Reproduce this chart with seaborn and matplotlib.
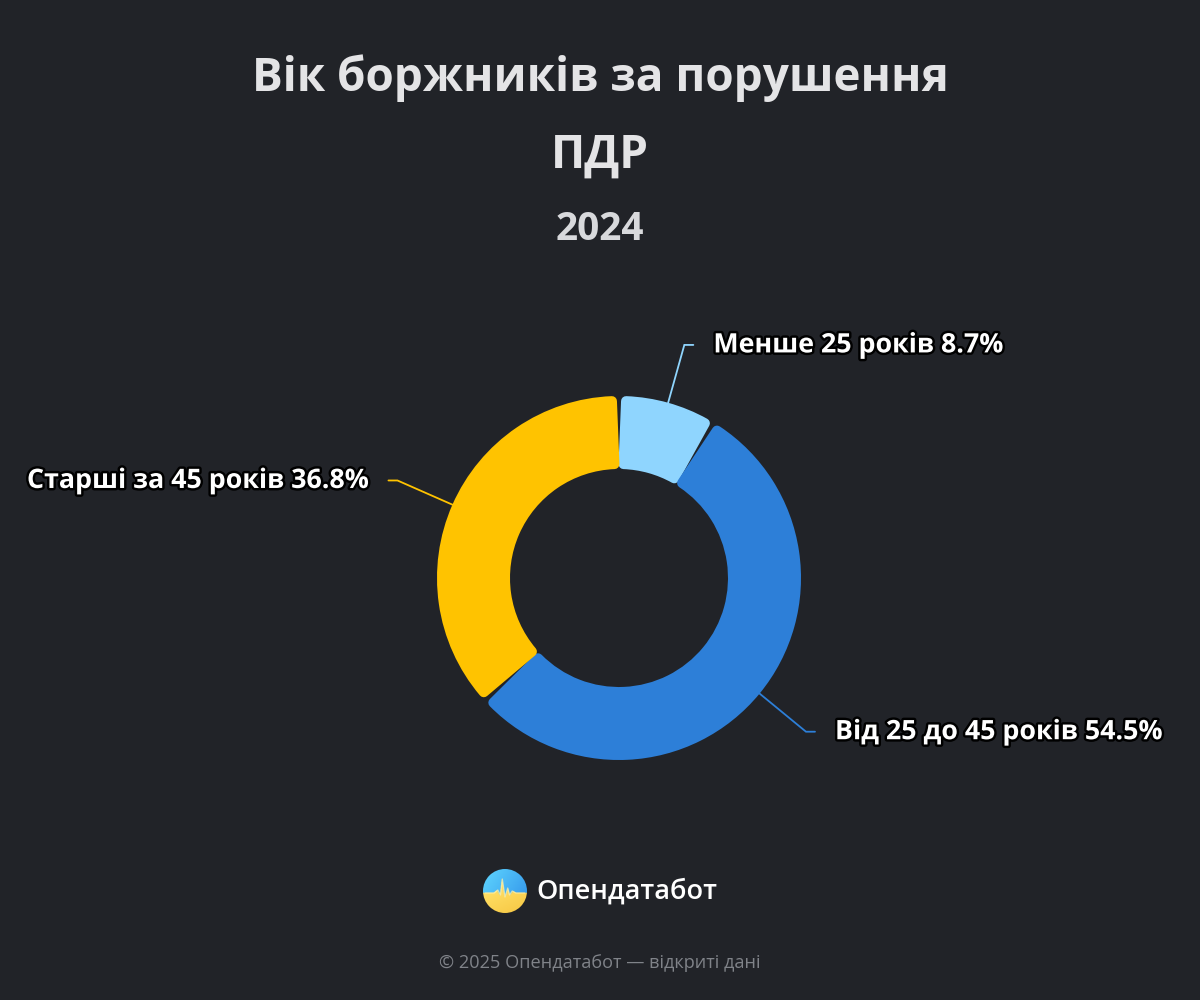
import numpy as np
import matplotlib
matplotlib.use("Agg")
import matplotlib.pyplot as plt
import matplotlib.patheffects as pe
from matplotlib.patches import Circle, Polygon
from matplotlib.colors import LinearSegmentedColormap
import seaborn as sns

# ---- data ----
categories = ["Менше 25 років", "Від 25 до 45 років", "Старші за 45 років"]
shares = [8.7, 54.5, 36.8]
colors = ["#8fd5fe", "#2d7fd8", "#ffc300"]
title_lines = ["Вік боржників за порушення", "ПДР"]
subtitle = "2024"
brand = "Опендатабот"
footer = "© 2025 Опендатабот — відкриті дані"

BG = "#212328"
sns.set_theme(style="dark")
plt.rcParams["font.family"] = ["Open Sans", "DejaVu Sans"]

fig = plt.figure(figsize=(12, 10), dpi=100, facecolor=BG)

# overlay axes in pixel coordinates for texts
tax = fig.add_axes([0, 0, 1, 1])
tax.set_xlim(0, 1200)
tax.set_ylim(1000, 0)
tax.axis("off")
tax.set_facecolor(BG)

tax.text(600, 78, title_lines[0], ha="center", va="center", fontsize=33,
         fontweight="bold", color="#e4e4e6")
tax.text(600, 155, title_lines[1], ha="center", va="center", fontsize=33,
         fontweight="bold", color="#e4e4e6")
tax.text(600, 230, subtitle, ha="center", va="center", fontsize=28,
         fontweight="bold", color="#d8d9dc")

# pie axes
cx, cy, half = 619, 578, 200
pax = fig.add_axes([(cx - half) / 1200, (1000 - cy - half) / 1000,
                    2 * half / 1200, 2 * half / 1000])
pax.set_facecolor(BG)
pax.axis("off")
R = 182 / half
W = 73 / half
wedges, _ = pax.pie(shares, colors=colors, startangle=90, counterclock=False,
                    radius=R, wedgeprops=dict(width=W, linewidth=0))
pax.set_xlim(-1, 1)
pax.set_ylim(-1, 1)
pax.set_aspect("equal")

# rounded corners: shrink each wedge and stroke with its own colour
d_px, gap_px = 5.0, 0.8
d = d_px / half
rmid = (R - W / 2) * half
dth = np.rad2deg((d_px + gap_px) / rmid)
for w, col in zip(wedges, colors):
    t1, t2 = w.theta1, w.theta2
    w.set_radius(R - d)
    w.set_width(W - 2 * d)
    w.set_theta1(t1 + dth)
    w.set_theta2(t2 - dth)
    w.set_edgecolor(col)
    w.set_linewidth(2 * d_px * 72 / 100)
    w.set_joinstyle("round")

stroke = [pe.withStroke(linewidth=3.5, foreground="black")]
for w, cat, val, col in zip(wedges, categories, shares, colors):
    ang = np.deg2rad((w.theta1 + w.theta2) / 2)
    x0, y0 = R * np.cos(ang), R * np.sin(ang)
    r2 = R * 1.33
    x1, y1 = r2 * np.cos(ang), r2 * np.sin(ang)
    sgn = 1 if np.cos(ang) >= 0 else -1
    x2 = x1 + sgn * 0.045
    pax.plot([x0, x1, x2], [y0, y1, y1], color=col, lw=1.3,
             clip_on=False, solid_joinstyle="miter", zorder=0)
    pax.text(x2 + sgn * 0.1, y1, f"{cat} {val}%", ha="left" if sgn > 0 else "right",
             va="center", fontsize=19.3, fontweight="bold", color="white",
             path_effects=stroke, clip_on=False)

# logo: gradient circle with a spiky horizon
lx, ly, lr = 505, 891, 22
yy = np.linspace(0, 1, 100)[:, None] * np.ones((1, 100))
xx = np.linspace(0, 1, 100)[None, :] * np.ones((100, 1))
spike_x = np.array([-22, -12, -8, -5, -3, 0, 3, 5, 8, 12, 22])
spike_y = np.array([0, 0, -3, 2, -14, 4, -5, 2, -2, 0, 0])
px = (np.linspace(-lr, lr, 100))
horizon = np.interp(px, spike_x, spike_y) + 2
py = np.linspace(-lr, lr, 100)[:, None]
is_top = py < horizon[None, :]
blue = LinearSegmentedColormap.from_list("b", ["#5fd6ff", "#2f8fe8"])
yel = LinearSegmentedColormap.from_list("y", ["#ffe066", "#f2b930"])
img = np.where(is_top[..., None], blue(0.4 * yy + 0.6 * xx),
               yel(0.5 * (yy - 0.5) * 2 * 0.7 + 0.3 * xx))
im = tax.imshow(img, extent=(lx - lr, lx + lr, ly + lr, ly - lr), zorder=3,
                interpolation="bilinear")
clip = Circle((lx, ly), lr, transform=tax.transData, facecolor="none", edgecolor="none")
tax.add_patch(clip)
im.set_clip_path(clip)
tax.plot(lx + spike_x * 0.9, ly + spike_y + 2, color="#fff2b0", lw=0.9, zorder=4,
         alpha=0.7)
tax.set_xlim(0, 1200)
tax.set_ylim(1000, 0)
tax.set_aspect("auto")
tax.text(536, 892, brand, ha="left", va="center", fontsize=19.5, fontweight="semibold",
         color="white")

tax.text(600, 963, footer, ha="center", va="center", fontsize=13.1, color="#808389")

fig.savefig("out.png", dpi=100, facecolor=BG)
